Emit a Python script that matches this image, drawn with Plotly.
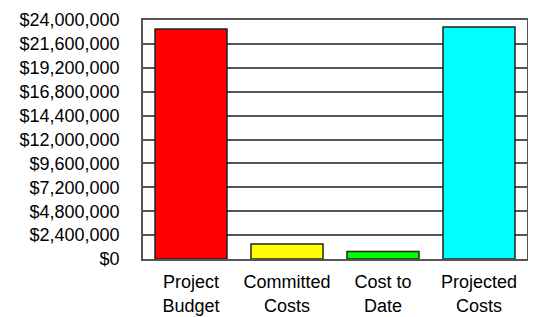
import plotly.graph_objects as go

categories = ["Project<br>Budget", "Committed<br>Costs", "Cost to<br>Date", "Projected<br>Costs"]
values = [23100000, 1500000, 750000, 23300000]
colors = ["#FF0000", "#FFFF00", "#00FF00", "#00FFFF"]
tick_vals = [0, 2400000, 4800000, 7200000, 9600000, 12000000, 14400000, 16800000, 19200000, 21600000, 24000000]
tick_text = ["$0", "$2,400,000", "$4,800,000", "$7,200,000", "$9,600,000", "$12,000,000",
             "$14,400,000", "$16,800,000", "$19,200,000", "$21,600,000", "$24,000,000"]

fig = go.Figure(go.Bar(
    x=categories, y=values,
    marker=dict(color=colors, line=dict(color="#222222", width=1.5)),
    width=0.75,
))
fig.update_layout(
    width=528, height=309,
    margin=dict(l=135, r=9, t=12, b=58, autoexpand=False),
    paper_bgcolor="white", plot_bgcolor="white",
    font=dict(family="Liberation Sans, Arial", size=18, color="#000000"),
    showlegend=False,
)
fig.update_yaxes(
    range=[0, 24000000], tickvals=tick_vals, ticktext=tick_text,
    showgrid=True, gridcolor="#555555", gridwidth=1.5,
    showline=True, linecolor="#555555", linewidth=1.5, mirror=True,
    ticks="", ticklabelstandoff=18, zeroline=False, automargin=False,
)
fig.update_xaxes(
    showline=True, linecolor="#555555", linewidth=1.5, mirror=True,
    ticks="", showgrid=False, ticklabelstandoff=6, automargin=False,
)
fig.write_html("out.html")
